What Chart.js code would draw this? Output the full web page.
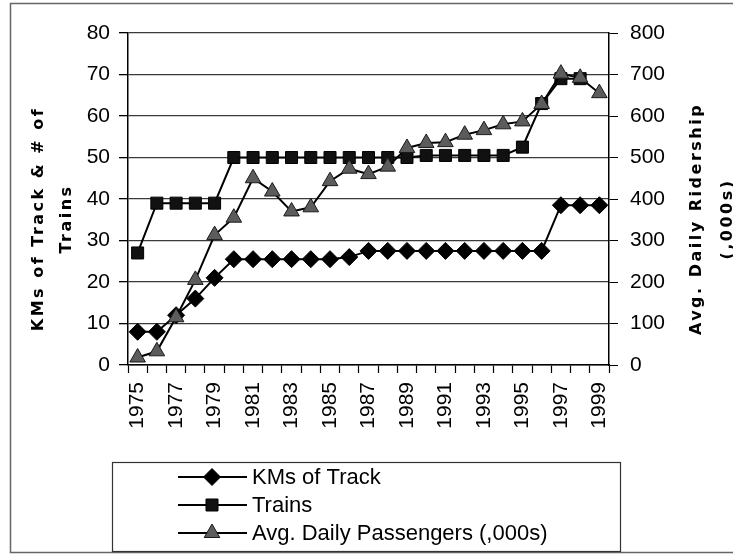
<!DOCTYPE html>
<html>
<head>
<meta charset="utf-8">
<title>Track, Trains and Ridership</title>
<script src="https://cdn.jsdelivr.net/npm/chart.js@4.4.1/dist/chart.umd.min.js"></script>
<style>
    html, body { margin: 0; padding: 0; background: #fff; }
    #wrap { width: 733px; height: 554px; }
</style>
</head>
<body>
<div id="wrap"><canvas id="myChart" width="733" height="554"></canvas></div>
<script>
// data
var years = ['1975', '1976', '1977', '1978', '1979', '1980', '1981', '1982', '1983', '1984',
    '1985', '1986', '1987', '1988', '1989', '1990', '1991', '1992', '1993', '1994',
    '1995', '1996', '1997', '1998', '1999'];
var kmsOfTrack = [8, 8, 12, 16, 21, 25.5, 25.5, 25.5, 25.5, 25.5,
    25.5, 26, 27.5, 27.5, 27.5, 27.5, 27.5, 27.5, 27.5, 27.5,
    27.5, 27.5, 38.5, 38.5, 38.5];
var trains = [27, 39, 39, 39, 39, 50, 50, 50, 50, 50,
    50, 50, 50, 50, 50, 50.5, 50.5, 50.5, 50.5, 50.5,
    52.5, 63, 69, 69, null];
var passengers = [18, 33, 115, 205, 313, 355, 450, 418, 370, 380,
    443, 473, 460, 478, 523, 535, 537, 555, 566, 580,
    587, 629, 702, 692, 655];

var leftTicks = [0, 10, 20, 30, 40, 50, 60, 70, 80];
var rightTicks = [0, 100, 200, 300, 400, 500, 600, 700, 800];

var leftTitle = ['KMs of Track & # of', 'Trains'];
var rightTitle = ['Avg. Daily Ridership', '(,000s)'];
var legendLabels = ['KMs of Track', 'Trains', 'Avg. Daily Passengers (,000s)'];

var tickFont = { family: '"Liberation Sans", Arial, sans-serif', size: 21 };

// frame, axis titles and the boxed legend under the chart
var decorations = {
    id: 'decorations',
    beforeDraw: function (chart) {
        var ctx = chart.ctx;
        ctx.save();
        ctx.fillStyle = '#fff';
        ctx.fillRect(0, 0, chart.width, chart.height);
        ctx.strokeStyle = '#666';
        ctx.lineWidth = 1.5;
        ctx.strokeRect(10.5, 3.5, 740, 549);
        ctx.restore();
    },
    afterDraw: function (chart) {
        var ctx = chart.ctx;
        var area = chart.chartArea;
        var midY = (area.top + area.bottom) / 2 + 20;

        ctx.save();
        ctx.fillStyle = '#000';
        ctx.font = 'bold 16px "DejaVu Sans", Arial, sans-serif';
        ctx.textAlign = 'center';
        ctx.textBaseline = 'middle';
        if ('letterSpacing' in ctx) ctx.letterSpacing = '2.5px';
        var vText = function (text, x, y) {
            ctx.save();
            ctx.translate(x, y);
            ctx.rotate(-Math.PI / 2);
            ctx.fillText(text, 0, 0);
            ctx.restore();
        };
        vText(leftTitle[0], 39, midY);
        vText(leftTitle[1], 67, midY);
        vText(rightTitle[0], 697, midY);
        vText(rightTitle[1], 728, midY);
        ctx.restore();

        // legend
        ctx.save();
        ctx.strokeStyle = '#333';
        ctx.lineWidth = 1.2;
        ctx.strokeRect(112.5, 462.5, 508, 89);
        var rows = [477, 505, 533];
        ctx.font = '22px "Liberation Sans", Arial, sans-serif';
        ctx.textAlign = 'left';
        ctx.textBaseline = 'middle';
        chart.data.datasets.forEach(function (ds, i) {
            var y = rows[i];
            ctx.strokeStyle = ds.borderColor;
            ctx.lineWidth = ds.borderWidth;
            ctx.beginPath();
            ctx.moveTo(178, y);
            ctx.lineTo(247, y);
            ctx.stroke();
            ctx.fillStyle = ds.pointBackgroundColor;
            ctx.strokeStyle = ds.pointBorderColor;
            ctx.lineWidth = ds.pointBorderWidth;
            Chart.helpers.drawPoint(ctx, {
                pointStyle: ds.pointStyle,
                rotation: 0,
                radius: ds.pointRadius,
                borderWidth: ds.pointBorderWidth
            }, 212, y);
            ctx.fillStyle = '#000';
            ctx.fillText(legendLabels[i], 252, y + 1);
        });
        ctx.restore();
    }
};

var ctx = document.getElementById('myChart').getContext('2d');
new Chart(ctx, {
    type: 'line',
    data: {
        labels: years,
        datasets: [{
            label: legendLabels[0],
            data: kmsOfTrack,
            yAxisID: 'y',
            order: 3,
            borderColor: '#000',
            borderWidth: 2,
            pointStyle: 'rectRot',
            pointRadius: 8.5,
            pointBackgroundColor: '#000',
            pointBorderColor: '#000',
            pointBorderWidth: 1
        }, {
            label: legendLabels[1],
            data: trains,
            yAxisID: 'y',
            order: 2,
            borderColor: '#000',
            borderWidth: 2,
            pointStyle: 'rect',
            pointRadius: 8.5,
            pointBackgroundColor: '#111',
            pointBorderColor: '#000',
            pointBorderWidth: 1
        }, {
            label: legendLabels[2],
            data: passengers,
            yAxisID: 'y1',
            order: 1,
            borderColor: '#000',
            borderWidth: 2,
            pointStyle: 'triangle',
            pointRadius: 9,
            pointBackgroundColor: '#5c5c5c',
            pointBorderColor: '#1a1a1a',
            pointBorderWidth: 1
        }]
    },
    options: {
        responsive: false,
        animation: false,
        layout: { padding: { top: 33, left: 0, right: 0, bottom: 0 } },
        plugins: {
            legend: { display: false },
            tooltip: { enabled: false },
            title: { display: false }
        },
        scales: {
            x: {
                offset: true,
                afterFit: function (scale) { scale.height = 189; },
                border: { color: '#000', width: 1.5 },
                grid: {
                    offset: true,
                    drawOnChartArea: false,
                    tickLength: 8,
                    tickColor: '#000',
                    tickWidth: 1.2
                },
                ticks: {
                    autoSkip: false,
                    maxRotation: 90,
                    minRotation: 90,
                    padding: 9,
                    color: '#000',
                    font: tickFont,
                    callback: function (val, i) {
                        return i % 2 === 0 ? this.getLabelForValue(val) : '';
                    }
                }
            },
            y: {
                position: 'left',
                min: leftTicks[0],
                max: leftTicks[leftTicks.length - 1],
                afterFit: function (scale) { scale.width = 128; },
                afterBuildTicks: function (scale) {
                    scale.ticks = leftTicks.map(function (v) { return { value: v }; });
                },
                border: { color: '#000', width: 1.5 },
                grid: {
                    color: '#3a3a3a',
                    lineWidth: 1.3,
                    tickLength: 9,
                    tickColor: '#000'
                },
                ticks: { padding: 9, color: '#000', font: tickFont }
            },
            y1: {
                position: 'right',
                min: rightTicks[0],
                max: rightTicks[rightTicks.length - 1],
                afterFit: function (scale) { scale.width = 124; },
                afterBuildTicks: function (scale) {
                    scale.ticks = rightTicks.map(function (v) { return { value: v }; });
                },
                border: { color: '#000', width: 1.5 },
                grid: {
                    drawOnChartArea: false,
                    tickLength: 9,
                    tickColor: '#000'
                },
                ticks: { padding: 12, color: '#000', font: tickFont }
            }
        }
    },
    plugins: [decorations]
});
</script>
</body>
</html>
